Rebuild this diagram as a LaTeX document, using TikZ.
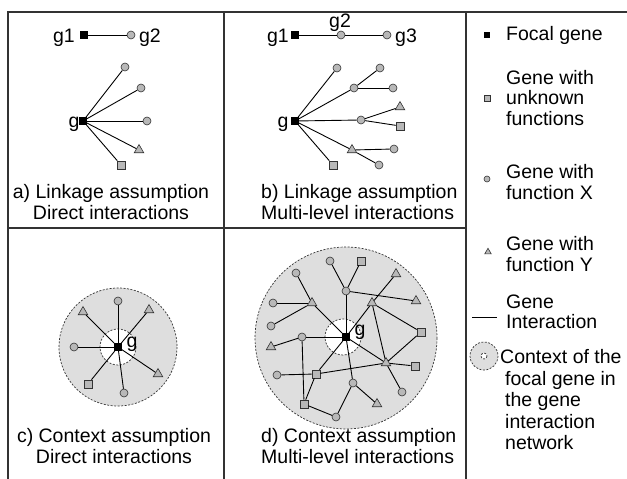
\documentclass[tikz,border=0pt]{standalone}
\usepackage{fontspec}
\setmainfont{Liberation Sans}
\usetikzlibrary{shapes.geometric}
\definecolor{genefill}{gray}{0.72}
\definecolor{ctxfill}{gray}{0.87}

\begin{document}
\begin{tikzpicture}[x=1pt,y=-1pt,
  focal/.style={rectangle,fill=black,minimum size=7.5,inner sep=0},
  unk/.style={rectangle,draw=black!80,fill=genefill,line width=.6pt,minimum size=8,inner sep=0},
  funx/.style={circle,draw=black!80,fill=genefill,line width=.6pt,minimum size=8,inner sep=0},
  funy/.style={regular polygon,regular polygon sides=3,draw=black!80,fill=genefill,line width=.6pt,minimum size=11,inner sep=0},
  small/.style={minimum size=6},
  lbl/.style={inner sep=0,font=\fontsize{19.5}{20.5}\selectfont},
  legtext/.style={lbl,anchor=west,align=left},
  link/.style={line width=.9pt,black},
  frame/.style={line width=1.2pt,black!80},
  ctx/.style={draw=black!80,fill=ctxfill,dash pattern=on 2pt off 1.5pt,line width=.7pt},
  core/.style={draw=black!80,fill=white,dash pattern=on 2pt off 1.5pt,line width=.7pt}]
\useasboundingbox (0,0) rectangle (627,479);
\pgfmathsetmacro{\ctxr}{59}
\pgfmathsetmacro{\ctxR}{91}
\pgfmathsetmacro{\corer}{18}

\draw[frame] (8,479) -- (8,12) -- (627,12);
\draw[frame] (224,12) -- (224,479);
\draw[frame] (466,12) -- (466,479);
\draw[frame] (8,228) -- (466,228);

% a) linkage, direct
\node[focal] (ag1) at (84,35) {};
\node[funx] (ag2) at (131,35) {};
\node[lbl] at (64,38) {g1};
\node[lbl] at (150,38) {g2};
\draw[link] (ag1) -- (ag2);
\node[focal] (ag) at (83,121) {};
\node[lbl] at (74,124) {g};
\node[funx] (ax1) at (125,67) {};
\node[funx] (ax2) at (141,88) {};
\node[funx] (ax3) at (147,121) {};
\node[funy] (ay1) at (139,150) {};
\node[unk] (as1) at (121,165) {};
\foreach \n in {ax1,ax2,ax3,ay1,as1}
  \draw[link] (ag) -- (\n);
\node[lbl,align=center] at (111,202) {a) Linkage assumption\\Direct interactions};

% b) linkage, multi-level
\node[focal] (bg1) at (295,35) {};
\node[funx] (bg2) at (341,35) {};
\node[funx] (bg3) at (387,35) {};
\node[lbl] at (278,38) {g1};
\node[lbl] at (340,23) {g2};
\node[lbl] at (406,38) {g3};
\draw[link] (bg1) -- (bg2) -- (bg3);
\node[focal] (bg) at (295,121) {};
\node[lbl] at (283,124) {g};
\node[funx] (bx1) at (337,68) {};
\node[funx] (bx2) at (354,88) {};
\node[funx] (bx3) at (380,68) {};
\node[funx] (bx4) at (393,88) {};
\node[funx] (bx5) at (361,120) {};
\node[funy] (by1) at (400,107) {};
\node[unk] (bs1) at (400,126) {};
\node[funy] (by2) at (352,150) {};
\node[funx] (bx6) at (394,149) {};
\node[funx] (bx7) at (379,165) {};
\node[unk] (bs2) at (333,165) {};
\foreach \a/\b in {bg/bx1,bg/bx2,bx2/bx3,bx2/bx4,bg/bx5,bx5/by1,bx5/bs1,bg/by2,by2/bx6,by2/bx7,bg/bs2}
  \draw[link] (\a) -- (\b);
\node[lbl,align=left,anchor=west] at (261,202) {b) Linkage assumption\\Multi-level interactions};

% c) context, direct
\draw[ctx] (118,347) circle (\ctxr);
\draw[core] (118,347) circle (\corer);
\node[focal] (cg) at (118,347) {};
\node[lbl] at (132,344) {g};
\node[funx] (cx1) at (118,301) {};
\node[funy] (cy1) at (83,312) {};
\node[funy] (cy2) at (149,310) {};
\node[funx] (cx2) at (74,347) {};
\node[funy] (cy3) at (158,374) {};
\node[unk] (cs1) at (88,384) {};
\node[funx] (cx3) at (124,393) {};
\foreach \n in {cx1,cy1,cy2,cx2,cy3,cs1,cx3}
  \draw[link] (cg) -- (\n);
\node[lbl,align=center] at (114,446) {c) Context assumption\\Direct interactions};

% d) context, multi-level
\draw[ctx] (346,338) circle (\ctxR);
\draw[core] (343,337) circle (\corer);
\node[focal] (dg) at (346,337) {};
\node[lbl] at (360,332) {g};
\node[funx] (dx1) at (330,261) {};
\node[unk] (ds1) at (361,261) {};
\node[funy] (dy1) at (396,274) {};
\node[funx] (dx2) at (296,273) {};
\node[funx] (dx3) at (346,291) {};
\node[funy] (dy2) at (416,301) {};
\node[funy] (dy3) at (372,303) {};
\node[funx] (dx4) at (273,303) {};
\node[funy] (dy4) at (312,303) {};
\node[funx] (dx5) at (271,326) {};
\node[unk] (ds2) at (421,332) {};
\node[funy] (dy5) at (271,347) {};
\node[funx] (dx6) at (302,337) {};
\node[funy] (dy6) at (386,363) {};
\node[unk] (ds3) at (415,366) {};
\node[funx] (dx7) at (277,375) {};
\node[unk] (ds4) at (316,374) {};
\node[funx] (dx8) at (353,383) {};
\node[funx] (dx9) at (402,392) {};
\node[unk] (ds5) at (304,404) {};
\node[funy] (dy7) at (377,404) {};
\node[funx] (dx10) at (336,417) {};
\foreach \a/\b in {dx1/dx3,ds1/dx3,dx3/dg,dx3/dy2,dy1/dy3,dy3/dg,dy3/ds2,dy3/dy6,ds2/dy6,
    dy6/ds3,dy6/dx9,dy6/dg,ds4/dy6,dg/ds4,dg/dx8,dx8/dy7,dx8/dx10,ds5/dx10,ds5/ds4,
    dx6/ds5,dx7/ds4,dx6/dg,dy5/dx6,dx4/dy4,dx5/dy4,dx2/dy4,dy4/dg}
  \draw[link] (\a) -- (\b);
\node[lbl,align=left,anchor=west] at (261,446) {d) Context assumption\\Multi-level interactions};

% legend
\node[focal,small] (kfocal) at (487,35) {};
\node[legtext] at (506,35) {Focal gene};
\node[unk,small] (kunk) at (487,98) {};
\node[legtext] at (506,98) {Gene with\\unknown\\functions};
\node[funx,small] (kx) at (487,179) {};
\node[legtext] at (506,182) {Gene with\\function X};
\node[funy,small,minimum size=7.5] (ky) at (488,252) {};
\node[legtext] at (506,254) {Gene with\\function Y};
\draw[link] (472,317) -- (497,317);
\node[legtext] at (506,312) {Gene\\Interaction};
\draw[ctx] (484,356) circle (14);
\draw[core] (484,356) circle (3);
\node[legtext,font=\fontsize{19.5}{21.5}\selectfont] at (500,400) {Context of the\\\hspace*{5pt}focal gene in\\\hspace*{5pt}the gene\\\hspace*{5pt}interaction\\\hspace*{5pt}network};
\end{tikzpicture}
\end{document}
